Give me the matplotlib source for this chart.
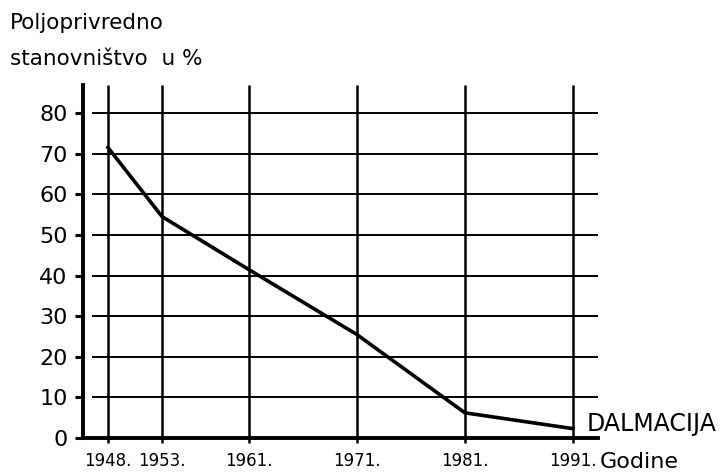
import matplotlib.pyplot as plt

plt.rcParams['font.family'] = ['DejaVu Sans']

years = [1948, 1953, 1961, 1971, 1981, 1991]
year_labels = ['1948.', '1953.', '1961.', '1971.', '1981.', '1991.']
share = [71.5, 54.5, 41.5, 25.5, 6.2, 2.3]
y_ticks = [0, 10, 20, 30, 40, 50, 60, 70, 80]

W, H = 728, 476
fig = plt.figure(figsize=(W / 100, H / 100), dpi=100)
ax = fig.add_axes([83 / W, 38 / H, 515 / W, 353 / H])

x0, x1 = 1945.69, 1993.31
ax.set_xlim(x0, x1)
ax.set_ylim(0, 86.9)

# grid, drawn by hand like the original sketch
ax.hlines(y_ticks[1:], 1946.5, x1, color='black', lw=1.4)
ax.vlines(years, -1.3, 86.9, color='black', lw=1.8, clip_on=False)

ax.plot(years, share, color='black', lw=2.6, solid_joinstyle='miter')

for s in ['top', 'right']:
    ax.spines[s].set_visible(False)
ax.spines['left'].set_linewidth(2.8)
ax.spines['bottom'].set_linewidth(2.8)

ax.set_yticks(y_ticks)
ax.set_yticklabels([str(v) for v in y_ticks], fontsize=16)
ax.tick_params(axis='y', length=6, width=2.2, pad=5)
ax.set_xticks(years)
ax.set_xticklabels(year_labels, fontsize=12)
ax.tick_params(axis='x', length=0, pad=10)

fig.text(10 / W, 1 - 23 / H, 'Poljoprivredno', fontsize=15.5, va='center', ha='left')
fig.text(10 / W, 1 - 59 / H, 'stanovništvo  u %', fontsize=15.5, va='center', ha='left')
fig.text(587 / W, 1 - 424 / H, 'DALMACIJA', fontsize=17, va='center', ha='left')
fig.text(600 / W, 1 - 462 / H, 'Godine', fontsize=16, va='center', ha='left')

fig.savefig('out.png', dpi=100)
